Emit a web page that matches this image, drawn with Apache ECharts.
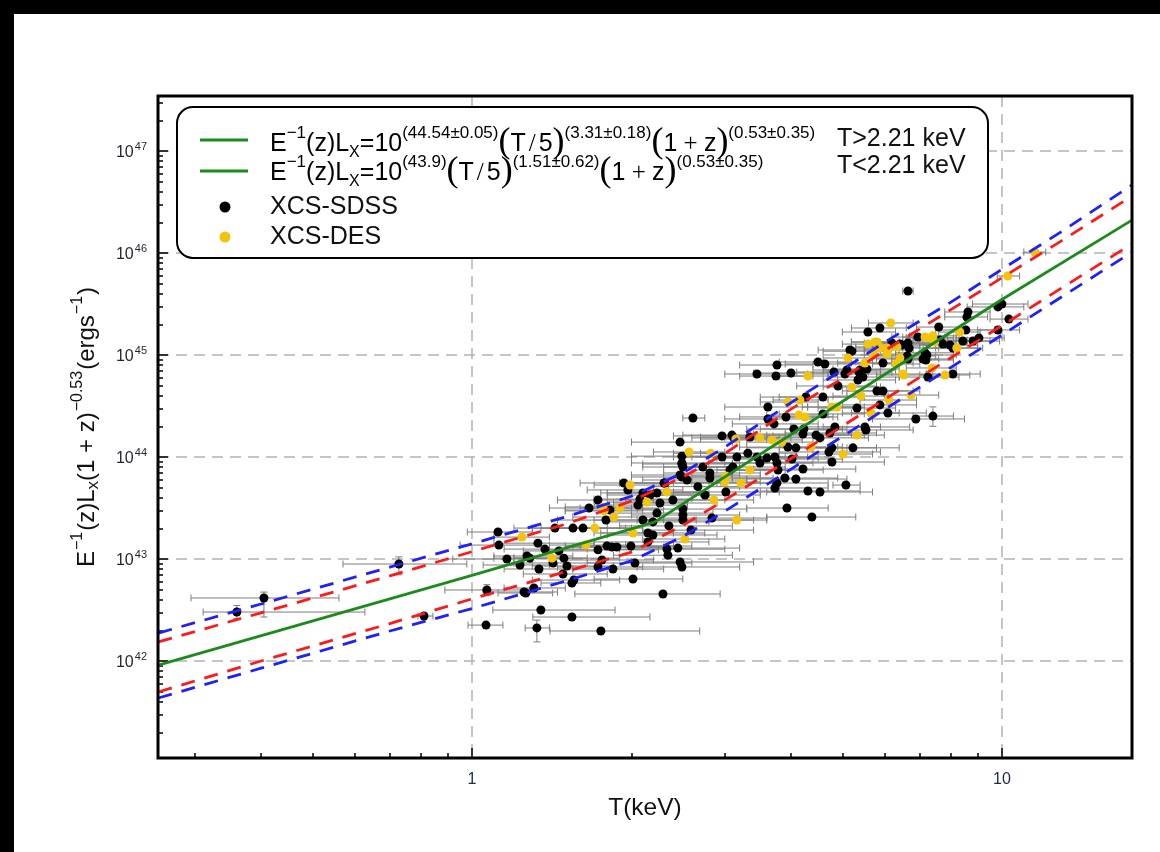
<!DOCTYPE html>
<html><head><meta charset="utf-8">
<script src="https://cdn.jsdelivr.net/npm/echarts@6/dist/echarts.min.js"></script>
<style>html,body{margin:0;padding:0;background:#fff}#c{width:1160px;height:852px}</style>
</head><body><div id="c"></div>
<script>
// ---------------- data ----------------
const xRange = [0.2556, 17.6];          // keV
const yRange = [1.12e41, 3.46e47];      // erg/s
const xMajorTicks = [1, 10];
const xTickLabels = ['1', '10'];
const xMinorTicks = [0.3,0.4,0.5,0.6,0.7,0.8,0.9,2,3,4,5,6,7,8,9];
const yMajorTicks = [1e42,1e43,1e44,1e45,1e46,1e47];
const yTickExponents = ['42','43','44','45','46','47'];
const yMinorTicks = [2e41,3e41,4e41,5e41,6e41,7e41,8e41,9e41,
  2e42,3e42,4e42,5e42,6e42,7e42,8e42,9e42,
  2e43,3e43,4e43,5e43,6e43,7e43,8e43,9e43,
  2e44,3e44,4e44,5e44,6e44,7e44,8e44,9e44,
  2e45,3e45,4e45,5e45,6e45,7e45,8e45,9e45,
  2e46,3e46,4e46,5e46,6e46,7e46,8e46,9e46,
  2e47,3e47];

// fitted relation (green) and scatter bands (red / blue dashed)
const fitT = [0.256, 1, 2.21, 5, 10, 17.6];
const fitL = [9.1e41, 6.9e42, 2.3e43, 3.5e44, 3.5e45, 2.1e46];
const bandT = [0.256,0.4,0.7,1,1.5,2,2.5,3,4,5,6,8,10,13,17.6];
const upperBlueL = [1.88e42,3.62e42,8.33e42,1.41e43,2.58e43,4.12e43,6.97e43,1.25e44,3.41e44,7.16e44,1.33e45,3.28e45,6.91e45,1.64e46,4.64e46];
const upperRedL  = [1.54e42,2.97e42,6.83e42,1.18e43,2.19e43,3.70e43,6.37e43,1.08e44,2.95e44,5.87e44,1.10e45,2.77e45,5.72e45,1.33e46,3.62e46];
const lowerRedL  = [4.97e41,1.0e42,2.33e42,4.06e42,7.49e42,1.17e43,2.14e43,3.78e43,9.67e43,2.01e44,3.65e44,9.35e44,1.94e45,4.58e45,1.23e46];
const lowerBlueL = [4.34e41,8.50e41,1.97e42,3.27e42,6.07e42,9.60e42,1.66e43,2.94e43,7.61e43,1.59e44,2.91e44,7.52e44,1.57e45,3.75e45,1.02e46];

// clusters: [T, L, T_low, T_high, (L_low, L_high)]
const sdss = [
[0.360,3.02e42,0.311,0.628,2.6e42,3.5e42],[0.405,4.15e42,0.295,0.561,2.70e42,4.74e42],[0.728,8.93e42,0.571,0.978,7.0e42,1.05e43],
[0.812,2.76e42,0.791,0.844],[1.067,4.97e42,0.889,1.286,4.4e42,5.6e42],[1.063,2.25e42,0.983,1.144],
[1.120,1.84e43,0.98,1.30],[1.124,1.37e43,0.95,1.35],[1.164,1.0e43,0.92,1.30],[1.232,8.74e42,1.05,1.40],[1.270,1.07e43,1.10,1.55],
[1.286,1.02e43,1.10,1.50],[1.254,4.75e42,1.05,1.45],[1.264,4.64e42,1.12,1.42],[1.309,5.2e42,1.15,1.50],[1.332,1.43e43,1.10,1.70],
[1.373,1.25e43,1.15,1.65],[1.349,3.16e42,1.095,1.862],[1.326,2.11e42,1.26,1.40,1.54e42,2.52e42],[1.338,7.98e42,1.15,1.55],
[1.422,9.14e42,1.20,1.75],[1.434,2.01e43,1.20,1.80],[1.459,1.20e43,1.25,1.75],[1.485,7.13e42,1.25,1.80],[1.491,1.02e43,1.20,1.90],
[1.511,8.54e42,1.30,1.85],[1.544,2.70e42,1.303,2.167],[1.544,5.82e42,1.35,1.75],[1.557,6.22e42,1.30,1.90],[1.551,2.01e43,1.30,1.95],
[1.620,2.01e43,1.35,2.10],[1.663,3.16e43,1.40,2.00],[1.729,3.79e43,1.45,2.20],[1.759,9.78e42,1.50,2.20],[1.729,8.35e42,1.45,2.10],
[1.790,2.41e43,1.45,2.30],[1.821,3.02e43,1.50,2.30],[1.729,1.23e43,1.40,2.25],[1.798,1.34e43,1.50,2.40],[1.837,1.31e43,1.50,2.30],
[1.877,1.31e43,1.55,2.35],[1.845,7.98e42,1.55,2.30],[1.935,5.56e43,1.60,2.40],[1.969,4.75e43,1.65,2.50],[1.995,1.34e43,1.60,2.60],
[2.013,6.37e42,1.70,2.50],[1.751,1.97e42,1.404,2.69],[2.030,9.14e42,1.65,2.60],[2.075,3.87e43,1.70,2.60],[2.102,4.44e43,1.75,2.70],
[2.167,4.24e43,1.80,2.80],[2.057,3.38e43,1.70,2.55],[2.102,2.41e43,1.70,2.65],[2.195,2.31e43,1.80,2.80],[2.148,1.80e43,1.75,2.75],
[2.195,1.72e43,1.80,2.90],[2.148,1.47e43,1.70,2.80],[2.234,2.82e43,1.85,2.85],[2.263,3.54e43,1.85,2.90],[2.293,4.54e42,1.564,2.94],
[2.303,5.56e43,1.90,2.95],[2.353,2.11e43,1.90,3.10],[2.333,1.25e43,1.90,3.00],[2.343,1.09e43,1.85,3.10],[2.447,1.28e43,2.00,3.20],
[2.470,9.35e42,2.00,3.40],[2.490,8.35e42,2.05,3.20],[2.490,8.54e43,2.10,3.10],[2.470,6.66e43,2.00,3.20],[2.546,5.95e43,2.10,3.30],
[2.501,3.09e43,2.05,3.30],[2.501,2.70e43,2.00,3.20],[2.501,2.41e43,2.05,3.40],[2.394,3.79e43,1.95,3.00],[2.590,1.92e43,2.10,3.40],
[2.812,6.22e43,2.30,3.70],[2.837,2.52e43,2.30,3.60],
[5.587,1.68e45,5.0,6.3],[5.886,1.84e45,5.2,6.6],[5.212,1.09e45,4.6,6.0],[6.20,1.31e45,5.5,7.0],[6.42,1.28e45,5.7,7.3],
[6.65,1.31e45,5.9,7.5],[7.60,1.88e45,6.9,8.4],[7.74,1.28e45,7.0,8.6],[7.22,1.0e45,6.4,8.2],[7.19,8.93e44,6.3,8.1],
[6.65,9.14e44,5.8,7.6],[7.25,6.08e44,6.4,8.3],[5.563,7.29e44,4.8,6.4],[5.467,6.08e44,4.7,6.4],[5.350,5.69e44,4.6,6.3],
[5.373,6.81e44,4.6,6.2],[5.10,7.13e44,4.4,5.9],[5.056,6.51e44,4.3,5.9],[4.497,8.54e44,3.8,5.3],[4.634,8.16e44,3.9,5.5],
[3.763,7.98e44,3.2,4.4],[4.82,6.81e44,4.1,5.6],[4.0,6.66e44,3.4,4.7],[3.747,6.22e44,3.2,4.4],[3.45,6.51e44,3.0,4.0],
[4.905,4.97e44,4.1,5.8],[4.595,3.87e44,3.8,5.5],[5.81,4.44e44,5.0,6.8],[5.965,4.44e44,5.1,7.0],[4.268,3.87e44,3.5,5.1],
[5.327,3.02e44,4.5,6.3],[5.886,3.24e44,5.0,6.9],[6.094,2.70e44,5.2,7.2],[3.618,3.09e44,3.0,4.3],[4.595,2.64e44,3.8,5.5],
[2.612,2.41e44,2.5,2.75],[3.618,2.36e44,3.0,4.4],[3.715,2.11e44,3.1,4.5],[3.913,2.47e44,3.2,4.8],[4.05,1.88e44,3.3,5.0],
[4.23,1.88e44,3.5,5.1],[4.213,1.68e44,3.4,5.2],[4.459,1.64e44,3.6,5.5],[4.537,1.54e44,3.7,5.6],[4.737,1.72e44,3.9,5.8],
[4.84,1.97e44,4.0,5.9],[5.515,1.97e44,4.6,6.7],[5.539,1.84e44,4.5,6.8],[6.88,2.36e44,5.7,8.5],[7.41,2.52e44,6.8,8.1,2.0e44,3.1e44],
[2.470,1.40e44,2.0,3.1],[2.490,1.02e44,2.0,3.2],[2.490,8.74e43,2.0,3.1],[2.501,7.98e43,2.1,3.2],[2.964,1.61e44,2.4,3.7],
[3.094,1.64e44,2.5,3.9],[3.12,1.54e44,2.6,3.8],[3.345,1.57e44,2.7,4.2],[3.947,1.25e44,3.2,4.9],[4.086,1.23e44,3.3,5.1],
[4.717,1.12e44,3.8,5.9],[4.778,1.23e44,3.9,5.8],[5.235,1.23e44,4.3,6.4],[4.778,8.93e43,3.8,6.0],[4.213,7.62e43,3.4,5.3],
[4.017,9.55e43,3.2,5.0],[3.73,1.0e44,3.0,4.7],[3.763,8.74e43,3.0,4.8],[3.78,7.46e43,3.1,4.6],[3.45,1.0e44,2.8,4.3],
[3.495,8.74e43,2.8,4.4],[3.603,9.77e43,2.9,4.5],[3.316,1.09e44,2.7,4.1],[3.162,1.0e44,2.6,3.9],[3.108,7.98e43,2.5,3.9],
[3.068,7.46e43,2.5,3.8],[2.964,1.0e44,2.4,3.7],[2.812,6.97e43,2.3,3.5],[2.490,6.37e43,2.0,3.1],[2.313,5.56e43,1.9,2.9],
[2.234,4.44e43,1.8,2.8],[5.078,5.31e43,4.8,5.4],[4.086,6.08e43,3.3,5.1],[3.895,6.22e43,3.1,4.9],[3.763,5.56e43,3.0,4.7],
[4.537,4.54e43,3.6,5.7],[4.305,4.64e43,3.5,5.4],[3.73,4.97e43,3.0,4.7],[3.014,4.54e43,2.4,3.8],[2.752,4.24e43,2.2,3.5],
[6.65,4.24e45,6.5,6.8],[9.83,2.96e45,8.6,11.0],[10.0,3.16e45,8.8,11.2],[8.63,2.64e45,7.8,9.5],[8.59,2.36e45,7.8,9.4],
[10.31,2.25e45,9.5,11.2],[9.83,1.76e45,9.0,10.8],[8.55,1.76e45,7.5,9.7],[8.44,1.37e45,7.5,9.5],[8.82,1.37e45,7.9,9.9],
[9.05,1.47e45,8.2,10.1],[7.98,1.25e45,7.1,9.0],[8.08,1.17e45,7.2,9.2],[6.94,1.50e45,6.2,7.8],[7.41,1.47e45,6.6,8.3],
[7.64,1.40e45,6.8,8.6],[5.167,1.12e45,4.5,5.9],[6.48,1.25e45,5.8,7.3],[6.68,1.17e45,5.9,7.6],[6.63,9.77e44,5.8,7.5],
[7.16,1.05e45,6.3,8.1],[7.10,9.14e44,6.2,8.1],[5.965,8.35e44,5.2,6.8],[8.08,6.51e44,7.2,9.1],[5.397,7.13e44,4.6,6.3],
[2.727,7.98e43,2.3,3.2],[2.669,5.12e43,2.2,3.2],[4.38,2.58e43,3.6,5.3],[3.93,3.16e43,3.3,4.7]
];
const des = [
[1.243,1.64e43,1.10,1.40],[1.416,1.02e43,1.20,1.65],[1.641,1.37e43,1.40,1.95],[1.706,2.01e43,1.45,2.00],[1.767,3.24e43,1.50,2.10],
[1.775,2.96e43,1.50,2.10],[1.853,2.58e43,1.55,2.20],[1.902,3.16e43,1.60,2.25],[1.987,5.31e43,1.70,2.35],[2.013,1.80e43,1.70,2.40],
[2.139,3.62e43,1.80,2.55],[2.333,4.54e43,2.00,2.75],[2.523,1.57e43,2.10,3.00],[2.862,3.79e43,2.40,3.40],
[6.17,2.06e45,5.6,6.8],[5.81,1.34e45,5.2,6.5],[5.886,1.20e45,5.3,6.6],[6.094,1.12e45,5.5,6.8],[5.71,1.0e45,5.1,6.4],
[7.16,1.50e45,6.5,7.9],[7.31,1.47e45,6.6,8.1],[7.41,1.54e45,6.7,8.2],[7.47,1.34e45,6.8,8.2],[6.42,9.35e44,5.8,7.2],
[6.31,8.16e44,5.7,7.0],[6.53,6.37e44,5.8,7.4],[7.38,7.46e44,6.6,8.2],[7.81,6.37e44,7.0,8.7],[5.123,9.35e44,4.6,5.7],
[5.515,8.35e44,4.9,6.2],[4.305,6.22e44,3.8,4.9],[5.212,4.86e44,4.6,5.9],[5.42,3.96e44,4.8,6.1],[6.74,4.05e44,6.0,7.6],
[3.947,3.46e44,3.5,4.5],[4.159,3.62e44,3.7,4.7],[4.778,3.09e44,4.2,5.4],[4.884,3.09e44,4.3,5.5],[5.66,2.70e44,5.0,6.4],
[6.12,3.62e44,5.4,6.9],[4.14,2.58e44,3.6,4.7],[4.25,2.47e44,3.7,4.9],[5.327,1.64e44,4.7,6.0],[2.568,1.12e44,2.2,3.0],
[2.824,1.09e44,2.4,3.3],[3.148,1.50e44,2.7,3.6],[3.495,1.54e44,3.0,4.0],[3.681,1.47e44,3.2,4.2],[3.845,1.40e44,3.3,4.4],
[4.363,1.25e44,3.8,5.0],[5.012,1.07e44,4.4,5.7],[3.345,7.46e43,2.9,3.9],[3.014,6.51e43,2.6,3.5],[3.0,5.69e43,2.6,3.5],
[3.218,5.56e43,2.8,3.7],[11.54,1.02e46,11.0,12.1],[10.26,5.95e45,9.8,10.8],[8.33,1.68e45,7.6,9.1],[8.22,1.17e45,7.5,9.0],
[5.587,1.28e45,5.0,6.2],[5.76,1.34e45,5.2,6.4],[5.86,1.17e45,5.3,6.5],[6.07,1.17e45,5.5,6.7],[6.07,1.02e45,5.5,6.7],
[6.34,1.20e45,5.7,7.0],[6.50,6.51e44,5.9,7.2],[3.16,2.41e43,2.8,3.6]
];

// ---------------- chart ----------------
const lg = Math.log10;
const FONT = '"Liberation Sans", Arial, sans-serif';
const SERIF = '"Liberation Serif", "Times New Roman", serif';
const toPts = (T, L) => T.map((t, i) => [lg(t), lg(L[i])]);
const toErr = rows => rows.map(r => [lg(r[0]), lg(r[1]), lg(r[2]), lg(r[3]),
  r.length > 4 ? lg(r[4]) : '-', r.length > 5 ? lg(r[5]) : '-']);

function renderErr(params, api) {
  const y = api.value(1), x = api.value(0);
  const st = { stroke: '#7d7d7d', lineWidth: 1 };
  const ch = [];
  const xl = api.value(2), xh = api.value(3);
  if (!isNaN(xl) && !isNaN(xh)) {
    const a = api.coord([xl, y]), b = api.coord([xh, y]);
    ch.push({ type: 'line', shape: { x1: a[0], y1: a[1], x2: b[0], y2: b[1] }, style: st });
    ch.push({ type: 'line', shape: { x1: a[0], y1: a[1] - 3.5, x2: a[0], y2: a[1] + 3.5 }, style: st });
    ch.push({ type: 'line', shape: { x1: b[0], y1: b[1] - 3.5, x2: b[0], y2: b[1] + 3.5 }, style: st });
  }
  const yl = api.value(4), yh = api.value(5);
  if (!isNaN(yl) && !isNaN(yh)) {
    const a = api.coord([x, yl]), b = api.coord([x, yh]);
    ch.push({ type: 'line', shape: { x1: a[0], y1: a[1], x2: b[0], y2: b[1] }, style: st });
    ch.push({ type: 'line', shape: { x1: a[0] - 3.5, y1: a[1], x2: a[0] + 3.5, y2: a[1] }, style: st });
    ch.push({ type: 'line', shape: { x1: b[0] - 3.5, y1: b[1], x2: b[0] + 3.5, y2: b[1] }, style: st });
  }
  return { type: 'group', children: ch };
}

const chart = echarts.init(document.getElementById('c'), null, { renderer: 'canvas' });
const dash = [14, 10];
const xMin = lg(xRange[0]), xMax = lg(xRange[1]), yMin = lg(yRange[0]), yMax = lg(yRange[1]);

const supRich = {
  b: { fontSize: 16, fontFamily: FONT, color: '#1e2430', verticalAlign: 'bottom', padding: [0, 0, 0, 0] },
  s: { fontSize: 11, fontFamily: FONT, color: '#1e2430', verticalAlign: 'bottom', padding: [0, 0, 9, 1] }
};

const yNameRich = {
  m: { fontSize: 24, fontFamily: FONT, color: '#111', verticalAlign: 'bottom', padding: [0, 0, 3, 0] },
  sp: { fontSize: 16, fontFamily: FONT, color: '#111', verticalAlign: 'bottom', padding: [0, 1, 16, 1] },
  sb: { fontSize: 17, fontFamily: FONT, color: '#111', verticalAlign: 'bottom', padding: [0, 0, 0, 0] }
};

const legRich = {
  m: { fontSize: 25, fontFamily: FONT, color: '#111', verticalAlign: 'bottom', padding: [0, 0, 4, 0] },
  sp: { fontSize: 17, fontFamily: FONT, color: '#111', verticalAlign: 'bottom', padding: [0, 0, 19, 0] },
  sb: { fontSize: 16, fontFamily: FONT, color: '#111', verticalAlign: 'bottom', padding: [0, 0, 0, 0] },
  bp: { fontSize: 36, fontFamily: SERIF, color: '#111', verticalAlign: 'bottom', padding: [0, 0, 0, 0] },
  sl: { fontSize: 25, fontFamily: SERIF, color: '#111', verticalAlign: 'bottom', padding: [0, 3, 4, 3] },
  pl: { fontSize: 25, fontFamily: SERIF, color: '#111', verticalAlign: 'bottom', padding: [0, 0, 4, 0] }
};
const formula1 = '{m|E}{sp|−1}{m|(z)L}{sb|X}{m|=10}{sp|(44.54±0.05)}{bp|(}{m|T}{sl|/}{m|5}{bp|)}{sp|(3.31±0.18)}{bp|(}{m|1}{pl| + }{m|z}{bp|)}{sp|(0.53±0.35)}';
const formula2 = '{m|E}{sp|−1}{m|(z)L}{sb|X}{m|=10}{sp|(43.9)}{bp|(}{m|T}{sl|/}{m|5}{bp|)}{sp|(1.51±0.62)}{bp|(}{m|1}{pl| + }{m|z}{bp|)}{sp|(0.53±0.35)}';

const option = {
  animation: false,
  backgroundColor: '#fff',
  grid: { left: 158, top: 96, right: 28, bottom: 94, show: true, borderColor: '#000', borderWidth: 3, backgroundColor: 'transparent', z: 5 },
  xAxis: [
    { type: 'value', min: xMin, max: xMax, position: 'bottom',
      axisLine: { show: false, onZero: false },
      axisTick: { inside: true, length: 10, customValues: xMajorTicks.map(lg), lineStyle: { color: '#000', width: 1.5 } },
      axisLabel: { customValues: xMajorTicks.map(lg), margin: 14, fontSize: 16, fontFamily: FONT, color: '#1c2b4d',
        formatter: v => xTickLabels[xMajorTicks.findIndex(t => Math.abs(lg(t) - v) < 1e-6)] || '' },
      splitLine: { show: true, lineStyle: { color: '#b3b3b3', width: 1.5, type: [11, 7] } },
      name: 'T(keV)', nameLocation: 'middle', nameGap: 38,
      nameTextStyle: { fontSize: 24.5, fontFamily: FONT, color: '#111' } },
    { type: 'value', min: xMin, max: xMax, position: 'bottom',
      axisLine: { show: false, onZero: false }, axisLabel: { show: false }, splitLine: { show: false },
      axisTick: { inside: true, length: 5, customValues: xMinorTicks.map(lg), lineStyle: { color: '#000', width: 1.5 } } }
  ],
  yAxis: [
    { type: 'value', min: yMin, max: yMax, position: 'left',
      axisLine: { show: false, onZero: false },
      axisTick: { inside: true, length: 10, customValues: yMajorTicks.map(lg), lineStyle: { color: '#000', width: 1.5 } },
      axisLabel: { customValues: yMajorTicks.map(lg), margin: 11, rich: supRich,
        formatter: v => { const i = yMajorTicks.findIndex(t => Math.abs(lg(t) - v) < 1e-6); return i < 0 ? '' : '{b|10}{s|' + yTickExponents[i] + '}'; } },
      splitLine: { show: true, lineStyle: { color: '#b3b3b3', width: 1.5, type: [11, 7] } },
      name: '{m|E}{sp|−1}{m|(z)L}{sb|x}{m|(1 + z)}{sp|−0.53}{m|(ergs}{sp|−1}{m|)}',
      nameLocation: 'middle', nameGap: 56, nameRotate: 90,
      nameTextStyle: { rich: yNameRich } },
    { type: 'value', min: yMin, max: yMax, position: 'left',
      axisLine: { show: false, onZero: false }, axisLabel: { show: false }, splitLine: { show: false },
      axisTick: { inside: true, length: 5, customValues: yMinorTicks.map(lg), lineStyle: { color: '#000', width: 1.5 } } }
  ],
  series: [
    { type: 'custom', name: 'err-sdss', renderItem: renderErr, data: toErr(sdss), encode: { x: 0, y: 1 }, clip: true, z: 2, silent: true },
    { type: 'custom', name: 'err-des', renderItem: renderErr, data: toErr(des), encode: { x: 0, y: 1 }, clip: true, z: 2, silent: true },
    { type: 'scatter', name: 'XCS-SDSS', data: sdss.map(r => [lg(r[0]), lg(r[1])]), symbolSize: 9,
      itemStyle: { color: '#000', opacity: 1 }, z: 3 },
    { type: 'scatter', name: 'XCS-DES', data: des.map(r => [lg(r[0]), lg(r[1])]), symbolSize: 9,
      itemStyle: { color: '#f2c40c', opacity: 1 }, z: 3 },
    { type: 'line', name: 'upper blue', data: toPts(bandT, upperBlueL), showSymbol: false, clip: true, z: 4,
      lineStyle: { color: '#1f1fff', width: 2.8, type: dash } },
    { type: 'line', name: 'upper red', data: toPts(bandT, upperRedL), showSymbol: false, clip: true, z: 4,
      lineStyle: { color: '#ff1a1a', width: 2.8, type: dash } },
    { type: 'line', name: 'lower red', data: toPts(bandT, lowerRedL), showSymbol: false, clip: true, z: 4,
      lineStyle: { color: '#ff1a1a', width: 2.8, type: dash } },
    { type: 'line', name: 'lower blue', data: toPts(bandT, lowerBlueL), showSymbol: false, clip: true, z: 4,
      lineStyle: { color: '#1f1fff', width: 2.8, type: dash } },
    { type: 'line', name: 'fit', data: toPts(fitT, fitL), showSymbol: false, clip: true, z: 4,
      lineStyle: { color: '#1b8c1b', width: 2.8 } }
  ],
  graphic: [
    { type: 'rect', shape: { x: 0, y: 0, width: 1160, height: 14 }, style: { fill: '#000' }, z: 200 },
    { type: 'rect', shape: { x: 0, y: 0, width: 14, height: 852 }, style: { fill: '#000' }, z: 200 },
    { type: 'rect', shape: { x: 177, y: 107, width: 811, height: 151, r: 16 }, style: { fill: '#fff', stroke: '#000', lineWidth: 2 }, z: 100 },
    { type: 'line', shape: { x1: 200, y1: 140, x2: 248, y2: 140 }, style: { stroke: '#1b8c1b', lineWidth: 3 }, z: 101 },
    { type: 'line', shape: { x1: 200, y1: 171, x2: 248, y2: 171 }, style: { stroke: '#1b8c1b', lineWidth: 3 }, z: 101 },
    { type: 'circle', shape: { cx: 225, cy: 207, r: 5.5 }, style: { fill: '#000' }, z: 101 },
    { type: 'circle', shape: { cx: 225, cy: 237, r: 5.5 }, style: { fill: '#f2c40c' }, z: 101 },
    { type: 'text', x: 270, y: 161, style: { text: formula1, rich: legRich, verticalAlign: 'bottom', align: 'left' }, z: 101 },
    { type: 'text', x: 270, y: 190, style: { text: formula2, rich: legRich, verticalAlign: 'bottom', align: 'left' }, z: 101 },
    { type: 'text', x: 837, y: 139, style: { text: 'T>2.21 keV', font: '25px ' + FONT, fill: '#111', verticalAlign: 'middle', align: 'left' }, z: 101 },
    { type: 'text', x: 837, y: 166, style: { text: 'T<2.21 keV', font: '25px ' + FONT, fill: '#111', verticalAlign: 'middle', align: 'left' }, z: 101 },
    { type: 'text', x: 270, y: 207, style: { text: 'XCS-SDSS', font: '25px ' + FONT, fill: '#111', verticalAlign: 'middle', align: 'left' }, z: 101 },
    { type: 'text', x: 270, y: 237, style: { text: 'XCS-DES', font: '25px ' + FONT, fill: '#111', verticalAlign: 'middle', align: 'left' }, z: 101 }
  ]
};
chart.setOption(option);
</script></body></html>
